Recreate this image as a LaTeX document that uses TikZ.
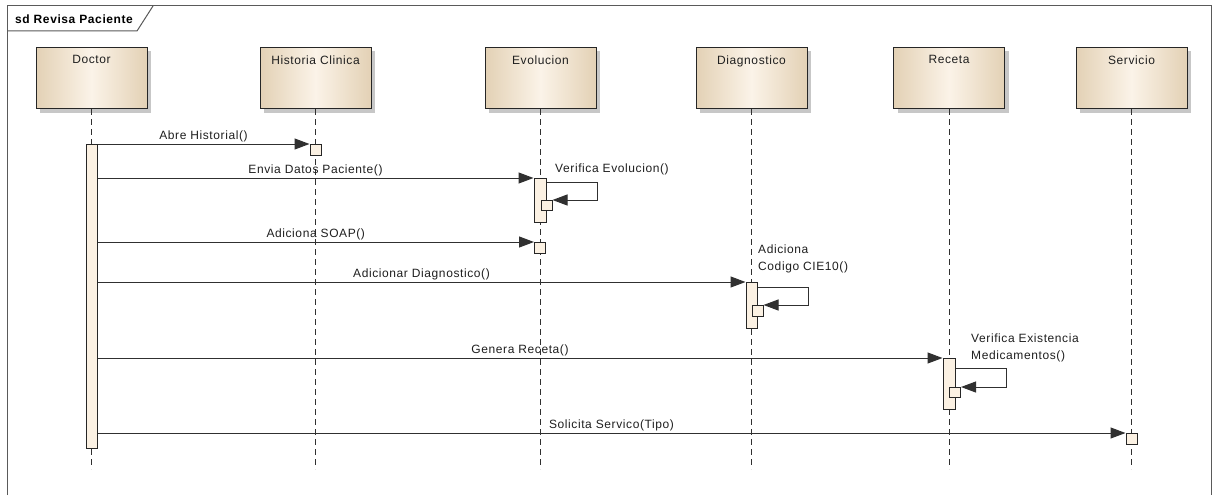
\documentclass[tikz,border=0pt]{standalone}
\usepackage{fontspec}
\newfontfamily\umlfont{Liberation Sans}[LetterSpace=5]
\usetikzlibrary{arrows.meta,shadows}
\definecolor{headedge}{HTML}{E3D1B5}
\definecolor{headmid}{HTML}{FBF3E8}
\definecolor{actfill}{HTML}{FBF1E3}
\definecolor{linecol}{HTML}{303030}
\definecolor{framecol}{HTML}{5A5A5A}
\tikzset{
  headbox/.style={draw=black!85, line width=1pt, minimum width=111pt, minimum height=61pt, inner sep=0pt,
    left color=headedge, right color=headedge, middle color=headmid,
    drop shadow={shadow xshift=4pt, shadow yshift=-4pt, fill=black!22, opacity=1}},
  headlbl/.style={font=\umlfont\fontsize{12}{14}\selectfont, anchor=north, text=black!88},
  lifeline/.style={draw=linecol, line width=1pt, dash pattern=on 6pt off 4pt},
  actbox/.style={draw=black!85, line width=1pt, fill=actfill, inner sep=0pt, anchor=north, minimum width=11pt},
  msg/.style={draw=linecol, line width=1pt, -{Triangle[length=15pt,width=11pt]}},
  lbl/.style={font=\umlfont\fontsize{12}{14}\selectfont, inner sep=2pt, text=black!88},
  selflbl/.style={font=\umlfont\fontsize{12}{17}\selectfont, inner sep=0pt, align=left, anchor=west, text=black!88},
}
\begin{document}
\begin{tikzpicture}[x=1pt,y=-1pt]
\useasboundingbox (0,0) rectangle (1220,495);
\fill[white] (0,0) rectangle (1220,495);
% frame
\draw[framecol, line width=1pt] (7,495) -- (7,6) -- (1211,6) -- (1211,495);
\draw[framecol, line width=1pt] (7,31) -- (137,31) -- (153,6);
\node[font=\umlfont\bfseries\fontsize{12}{14}\selectfont, anchor=west, inner sep=0pt] (title) at (15,19) {sd Revisa Paciente};
% heads
\node[headbox, anchor=north] (doc) at (91.5,47) {};
\node[headbox, anchor=north] (hc) at (315.5,47) {};
\node[headbox, anchor=north] (ev) at (540.5,47) {};
\node[headbox, anchor=north] (dg) at (751.5,47) {};
\node[headbox, anchor=north] (rc) at (949,47) {};
\node[headbox, anchor=north] (sv) at (1131.5,47) {};
\node[headlbl] (docl) at ([yshift=-5pt]doc.north) {Doctor};
\node[headlbl] (hcl) at ([yshift=-5pt]hc.north) {Historia Clinica};
\node[headlbl] (evl) at ([yshift=-5pt]ev.north) {Evolucion};
\node[headlbl] (dgl) at ([yshift=-5pt]dg.north) {Diagnostico};
\node[headlbl] (rcl) at ([yshift=-5pt]rc.north) {Receta};
\node[headlbl] (svl) at ([yshift=-5pt]sv.north) {Servicio};
% lifeline ends
\coordinate (docend) at (91.5,469);
\coordinate (hcend) at (315.5,469);
\coordinate (evend) at (540.5,469);
\coordinate (dgend) at (751.5,469);
\coordinate (rcend) at (949,469);
\coordinate (svend) at (1131.5,469);
\draw[lifeline] (doc.south) -- (docend);
\draw[lifeline] (hc.south) -- (hcend);
\draw[lifeline] (ev.south) -- (evend);
\draw[lifeline] (dg.south) -- (dgend);
\draw[lifeline] (rc.south) -- (rcend);
\draw[lifeline] (sv.south) -- (svend);
% activations
\node[actbox, minimum height=304pt] (docact) at (91.5,144) {};
\node[actbox, minimum height=11pt] (hcbox) at (315.5,144) {};
\node[actbox, minimum width=12pt, minimum height=44pt] (evact) at (540,178) {};
\node[actbox, minimum height=10pt] (evnest) at (546.5,200) {};
\node[actbox, minimum height=11pt] (evbox) at (540,242) {};
\node[actbox, minimum height=46pt] (dgact) at (751.5,282) {};
\node[actbox, minimum height=11pt] (dgnest) at (757.5,305) {};
\node[actbox, minimum width=12pt, minimum height=51pt] (rcact) at (949,358) {};
\node[actbox, minimum height=10pt] (rcnest) at (955,387) {};
\node[actbox, minimum height=11pt] (svbox) at (1131.5,433) {};
% messages
\draw[msg] (docact.east |- hcbox.north west) -- (hcbox.north west)
  node[lbl, midway, above] {Abre Historial()};
\draw[msg] (docact.east |- evact.north west) -- (evact.north west)
  node[lbl, midway, above] {Envia Datos Paciente()};
\draw[msg] (docact.east |- evbox.north west) -- (evbox.north west)
  node[lbl, midway, above] {Adiciona SOAP()};
\draw[msg] (docact.east |- dgact.north west) -- (dgact.north west)
  node[lbl, midway, above] {Adicionar Diagnostico()};
\draw[msg] (docact.east |- rcact.north west) -- (rcact.north west)
  node[lbl, midway, above] {Genera Receta()};
\draw[msg] (docact.east |- svbox.north west) -- (svbox.north west)
  node[lbl, midway, above] {Solicita Servico(Tipo)};
% self messages
\draw[msg] ([yshift=-4pt]evact.north east) -- ++(51,0) |- (evnest.north east);
\draw[msg] ([yshift=-5pt]dgact.north east) -- ++(51,0) |- (dgnest.north east);
\draw[msg] ([yshift=-10pt]rcact.north east) -- ++(51,0) |- (rcnest.north east);
\node[selflbl] (evself) at (555,169) {Verifica Evolucion()};
\node[selflbl] (dgself) at (758,258.5) {Adiciona\\Codigo CIE10()};
\node[selflbl] (rcself) at (971,347.5) {Verifica Existencia\\Medicamentos()};
\end{tikzpicture}
\end{document}
